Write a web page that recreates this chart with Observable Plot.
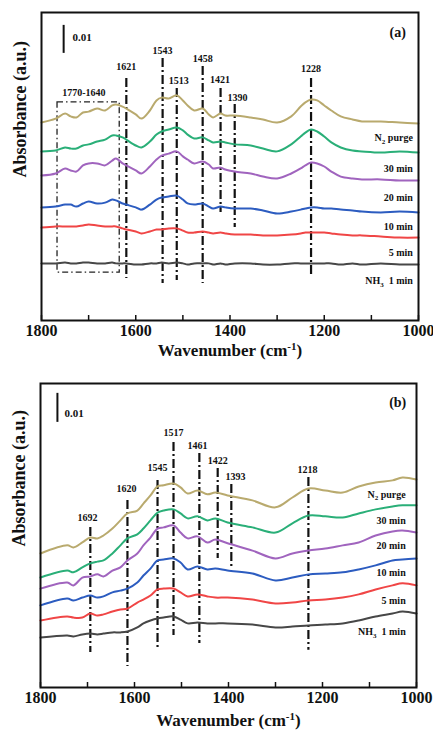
<!DOCTYPE html>
<html><head><meta charset="utf-8">
<script src="https://cdn.jsdelivr.net/npm/d3@7"></script>
<script src="https://cdn.jsdelivr.net/npm/@observablehq/plot@0.6"></script>
<style>
body{margin:0;background:#fff;}
#wrap{position:relative;width:433px;height:735px;overflow:hidden;}
#pa{position:absolute;left:0;top:0;}
#pb{position:absolute;left:0;top:365px;}
</style></head><body><div id="wrap"><div id="pa"></div><div id="pb"></div></div>
<script>
// ---- shared ----
const seriesLabels = ["N2 purge","30 min","20 min","10 min","5 min","NH3 1 min"];
const seriesColors = ["#b9aa6e","#2aaf78","#a064be","#2c5cc0","#f04646","#474747"];
const xTicksAll = [1800,1700,1600,1500,1400,1300,1200,1100,1000];
const xTickLabels = [1800,1600,1400,1200,1000];

// ---- panel (a): absorbance in units of 0.001 a.u. ----
const wnA = [1800,1770,1750,1738,1726,1712,1700,1682,1665,1650,1642,1628,1620,1600,1588,1570,1556,1545,1530,1513,1500,1490,1476,1458,1445,1436,1420,1410,1390,1356,1330,1300,1270,1250,1240,1228,1215,1200,1185,1165,1140,1120,1080,1040,1000];
const aN2 = [70.7,72.1,73.9,72.9,72.5,74.3,74.6,75.7,75.0,76.8,77.1,76.4,75.7,73.6,72.1,75.0,78.6,79.6,79.3,80.4,78.6,76.8,75.0,75.7,73.6,72.5,73.9,73.2,73.2,72.5,71.8,70.7,72.9,76.4,77.9,78.9,78.6,76.8,75.0,72.9,71.8,71.1,71.1,70.7,70.4];
const a30 = [60.4,60.7,61.8,61.4,61.4,62.5,62.9,63.9,64.6,66.1,66.1,65.4,64.6,62.5,61.8,63.9,66.4,67.5,68.2,68.9,67.9,66.4,65.0,65.4,64.3,63.6,63.9,63.6,62.9,62.5,61.4,60.4,62.9,65.7,67.1,68.2,67.5,65.7,63.6,61.8,60.7,60.4,60.0,60.4,60.0];
const a20 = [51.8,52.5,54.3,53.6,53.2,55.4,56.1,56.1,55.4,57.1,57.9,56.1,55.4,53.6,52.5,55.0,57.5,58.9,59.6,60.4,58.6,57.5,56.1,56.8,55.7,54.3,54.6,53.9,53.2,52.5,51.4,50.7,52.5,54.3,55.4,56.4,56.1,55.0,53.2,51.4,50.7,50.4,50.4,50.0,50.0];
const a10 = [40.4,40.7,41.4,41.4,40.7,41.8,42.5,41.8,42.1,43.2,42.9,41.8,41.4,40.4,39.6,41.4,43.2,43.9,44.3,44.6,43.2,41.8,41.4,41.8,40.7,40.0,40.7,40.4,40.0,40.0,39.3,38.2,38.9,39.6,40.0,40.4,40.4,40.0,40.0,39.6,39.3,38.9,38.6,38.9,38.6];
const a5  = [33.2,33.6,33.6,33.6,33.6,33.9,34.3,33.9,33.6,33.6,33.6,32.9,32.5,31.8,31.1,31.8,32.5,32.5,32.9,32.9,32.1,31.4,31.4,31.8,31.4,31.1,31.4,31.1,30.7,30.7,30.4,30.4,30.7,31.1,31.4,31.4,31.4,31.4,31.1,30.7,30.4,30.4,30.0,29.6,29.6];
const a1  = [20.4,20.4,20.7,20.4,20.4,20.7,20.7,20.4,20.4,20.7,20.4,20.4,20.4,20.0,20.0,20.4,20.4,20.7,20.4,20.7,20.4,20.0,20.4,20.4,20.4,20.0,20.4,20.0,20.4,20.4,20.0,20.0,20.4,20.4,20.4,20.4,20.4,20.4,20.4,20.0,20.4,20.0,20.4,20.0,20.0];
const peaksA = [1620,1543,1513,1458,1420,1390,1228];
const peakTextA = ["1621","1543","1513","1458","1421","1390","1228"];
const peakTopA = [86.4,93.6,82.9,90.7,82.9,77.1,86.4];
const peakBotA = [15.0,13.2,14.3,13.2,38.6,33.2,15.4];
const peakLabelXA = [1620,1543,1509,1458,1421,1384,1228];
const peakLabelYA = [90.7,96.4,85.7,93.6,86.1,79.6,90.0];
const boxWnA = [1766,1634];
const boxVA = [17.1,77.9];
const boxTextA = "1770-1640";
const boxTextPosA = [1710,81.4];
const labelWnA = 1012;
const labelYA = [65.4,54.3,43.9,33.6,24.3,14.3];
const scaleBarA = {wn:1753, lo:95.4, hi:105.4, textWn:1734, textV:101.1};
const tagA = {text:"(a)", wn:1044, v:102.9};

// ---- panel (b) ----
const wnB = [1800,1743,1730,1711,1694,1679,1666,1647,1630,1615,1594,1581,1566,1551,1538,1517,1502,1487,1466,1445,1428,1402,1349,1300,1264,1230,1194,1157,1123,1087,1051,1030,1000];
const bN2 = [46.2,49.0,48.3,50.0,51.7,51.4,52.4,54.8,57.6,60.0,61.0,63.4,66.2,69.3,69.7,70.3,69.0,66.9,67.9,66.6,67.2,66.2,64.5,62.1,65.5,68.6,67.9,67.2,69.3,70.7,71.4,72.4,71.7];
const b30 = [37.9,40.3,39.7,41.4,42.8,43.4,43.8,46.2,49.0,51.4,52.8,54.8,57.6,60.3,61.0,61.4,60.0,58.3,59.0,57.6,58.3,56.9,55.2,53.4,56.6,59.3,59.0,58.6,60.0,61.4,62.4,62.8,62.8];
const b20 = [34.1,36.2,35.2,37.9,38.3,39.0,38.3,40.3,41.4,43.8,46.2,49.0,51.7,54.8,55.2,55.9,53.4,51.4,52.1,50.0,51.0,49.7,47.2,44.5,46.2,47.2,47.9,49.0,50.0,52.4,53.8,54.1,53.4];
const b10 = [28.3,30.7,30.0,31.0,31.7,31.0,31.4,32.8,33.4,34.1,36.2,38.6,41.0,43.8,44.1,44.5,43.1,40.7,41.7,40.7,41.0,40.3,39.3,36.9,37.9,39.0,39.3,39.7,40.7,42.1,43.8,44.1,44.5];
const b5  = [23.1,24.5,24.1,24.1,25.5,24.8,25.2,26.2,26.9,27.2,29.3,30.3,31.7,33.8,34.1,34.1,32.8,31.4,32.1,31.4,31.0,31.0,30.3,29.0,29.3,30.0,30.3,31.0,32.1,33.8,35.2,35.9,35.2];
const b1  = [17.2,17.9,17.6,18.3,18.6,18.3,18.6,19.0,19.0,19.3,20.7,22.1,23.1,23.8,24.1,24.5,23.4,22.1,22.4,22.1,22.1,22.1,21.7,20.7,21.0,21.4,21.7,22.1,23.1,24.5,25.5,26.2,25.5];
const peaksB = [1694,1615,1551,1517,1462,1423,1394,1230];
const peakTextB = ["1692","1620","1545","1517","1461","1422","1393","1218"];
const peakTopB = [55.2,64.5,71.4,84.5,80.7,75.5,70.0,72.4];
const peakBotB = [12.1,7.2,13.8,17.9,15.2,44.5,41.7,12.8];
const peakLabelXB = [1700,1617,1551,1517,1466,1423,1385,1232];
const peakLabelYB = [58.6,68.6,75.9,87.9,83.4,78.3,72.8,75.2];
const labelWnB = 1023;
const labelYB = [66.6,57.6,49.0,39.7,30.0,19.3];
const scaleBarB = {wn:1764, lo:91.4, hi:101.4, textWn:1749, textV:94.5};
const tagB = {text:"(b)", wn:1040, v:98.3};

const FONT = "Liberation Serif, Times New Roman, serif";

function rows(wn, series) {
  return series.flatMap((vals, i) => vals.map((v, j) => ({wn: wn[j], v, s: seriesLabels[i]})));
}

function panel(cfg) {
  const marks = [];
  if (cfg.box) {
    marks.push(Plot.rect([cfg.box], {x1: d => d.wn[0], x2: d => d.wn[1], y1: d => d.v[0], y2: d => d.v[1],
      fill: "none", stroke: "#222", strokeWidth: 1.3, strokeDasharray: "6,3,1.5,3"}));
    marks.push(Plot.text([cfg.box], {x: d => d.textPos[0], y: d => d.textPos[1], text: d => d.text,
      fontSize: 10, fontWeight: "bold", fontFamily: FONT, fill: "#111"}));
  }
  marks.push(Plot.ruleX(cfg.peaks, {x: d => d, y1: (d, i) => cfg.peakTop[i], y2: (d, i) => cfg.peakBot[i],
    stroke: "#111", strokeWidth: 2.2, strokeDasharray: "9,3,2,3"}));
  marks.push(Plot.text(cfg.peakText, {x: (d, i) => cfg.peakLabelX[i], y: (d, i) => cfg.peakLabelY[i], text: d => d,
    fontSize: 10, fontWeight: "bold", fontFamily: FONT, fill: "#111"}));
  marks.push(Plot.line(rows(cfg.wn, cfg.series), {x: "wn", y: "v", z: "s", stroke: "s", strokeWidth: 2, curve: "catmull-rom"}));
  marks.push(Plot.text(seriesLabels, {x: () => cfg.labelWn, y: (d, i) => cfg.labelY[i], text: d => d, textAnchor: "end",
    fontSize: 10, fontWeight: "bold", fontFamily: FONT, fill: "#111"}));
  marks.push(Plot.ruleX([cfg.scaleBar], {x: d => d.wn, y1: d => d.lo, y2: d => d.hi, stroke: "#111", strokeWidth: 2}));
  marks.push(Plot.text([cfg.scaleBar], {x: d => d.textWn, y: d => d.textV, text: () => "0.01", textAnchor: "start",
    fontSize: 11, fontWeight: "bold", fontFamily: FONT, fill: "#111"}));
  marks.push(Plot.text([cfg.tag], {x: d => d.wn, y: d => d.v, text: d => d.text,
    fontSize: 14, fontWeight: "bold", fontFamily: FONT, fill: "#111"}));
  marks.push(Plot.axisX(xTicksAll, {anchor: "bottom", tickSize: -5, tickFormat: () => "", label: null, strokeWidth: 1.5, stroke: "#111"}));
  marks.push(Plot.axisX(xTickLabels, {anchor: "bottom", tickSize: 0, tickPadding: 4, label: null, tickFormat: d => String(d),
    fontSize: 16, fontWeight: "bold", fontFamily: FONT, fill: "#111"}));
  marks.push(Plot.text(["Wavenumber (cm-1)"], {frameAnchor: "bottom", dy: cfg.xTitleDy, text: d => d,
    fontSize: 17, fontWeight: "bold", fontFamily: FONT, fill: "#111"}));
  marks.push(Plot.text(["Absorbance (a.u.)"], {frameAnchor: "left", dx: cfg.yTitleDx, dy: cfg.yTitleDy, rotate: -90, text: d => d,
    fontSize: 18, fontWeight: "bold", fontFamily: FONT, fill: "#111"}));
  marks.push(Plot.frame({stroke: "#111", strokeWidth: 2}));
  const svg = Plot.plot({
    width: 433, height: cfg.height,
    marginTop: cfg.mt, marginBottom: cfg.mb, marginLeft: cfg.ml, marginRight: cfg.mr,
    x: {domain: [1800, 1000], axis: null, label: null},
    y: {domain: cfg.yDomain, axis: null, label: null},
    color: {domain: seriesLabels, range: seriesColors},
    style: {fontFamily: FONT, background: "white"},
    marks
  });
  svg.querySelectorAll("text").forEach(t => {
    const s = t.textContent;
    if (s === "N2 purge") t.innerHTML = 'N<tspan dy="3" font-size="7">2</tspan><tspan dy="-3"> purge</tspan>';
    else if (s === "NH3 1 min") t.innerHTML = 'NH<tspan dy="3" font-size="7">3</tspan><tspan dy="-3">  1 min</tspan>';
    else if (s === "Wavenumber (cm-1)") t.innerHTML = 'Wavenumber (cm<tspan dy="-6" font-size="11">-1</tspan><tspan dy="6">)</tspan>';
  });
  return svg;
}

document.getElementById("pa").appendChild(panel({
  height: 365, mt: 12, mb: 45, ml: 41, mr: 15, yDomain: [0, 110],
  wn: wnA, series: [aN2, a30, a20, a10, a5, a1],
  peaks: peaksA, peakText: peakTextA, peakTop: peakTopA, peakBot: peakBotA, peakLabelX: peakLabelXA, peakLabelY: peakLabelYA,
  box: {wn: boxWnA, v: boxVA, text: boxTextA, textPos: boxTextPosA},
  labelWn: labelWnA, labelY: labelYA, scaleBar: scaleBarA, tag: tagA,
  xTitleDy: 35, yTitleDx: -21, yTitleDy: 11
}));
document.getElementById("pb").appendChild(panel({
  height: 370, mt: 18, mb: 48, ml: 40, mr: 17, yDomain: [0, 104.8],
  wn: wnB, series: [bN2, b30, b20, b10, b5, b1],
  peaks: peaksB, peakText: peakTextB, peakTop: peakTopB, peakBot: peakBotB, peakLabelX: peakLabelXB, peakLabelY: peakLabelYB,
  box: null,
  labelWn: labelWnB, labelY: labelYB, scaleBar: scaleBarB, tag: tagB,
  xTitleDy: 38, yTitleDx: -21, yTitleDy: 11
}));
</script></body></html>
